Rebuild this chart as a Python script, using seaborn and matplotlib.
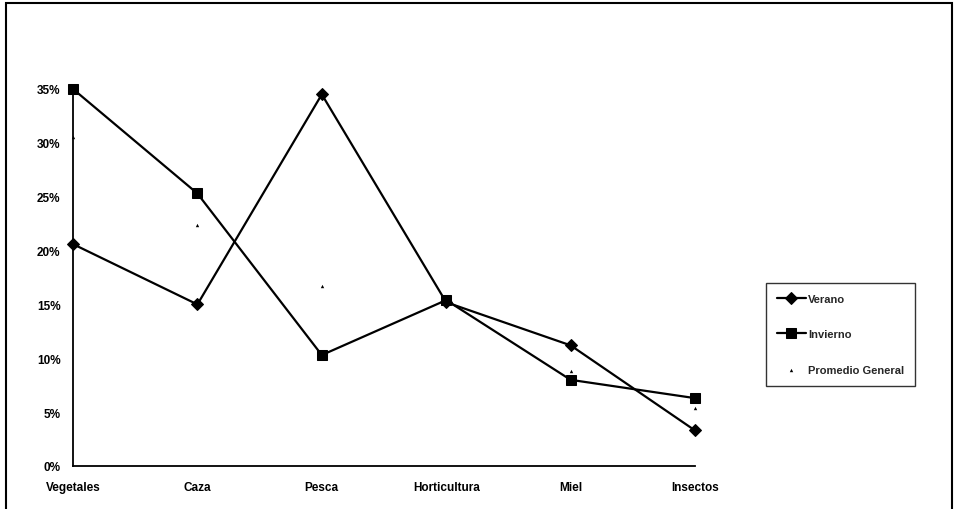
import matplotlib
matplotlib.use("Agg")
import matplotlib.pyplot as plt
import matplotlib.patches as patches
from matplotlib.ticker import PercentFormatter
import seaborn as sns
import pandas as pd

# data
categorias = ["Vegetales", "Caza", "Pesca", "Horticultura", "Miel", "Insectos"]
verano = [0.206, 0.150, 0.345, 0.152, 0.112, 0.033]
invierno = [0.350, 0.253, 0.103, 0.154, 0.080, 0.063]
promedio = [0.305, 0.224, 0.167, 0.151, 0.088, 0.054]

df = pd.DataFrame({"cat": categorias, "Verano": verano,
                   "Invierno": invierno, "Promedio General": promedio})

sns.set_style("white")
plt.rcParams["font.family"] = ["Liberation Sans", "DejaVu Sans"]
plt.rcParams["font.weight"] = "bold"

fig = plt.figure(figsize=(9.56, 5.10), dpi=100)
ax = fig.add_axes([73 / 956, 1 - 467 / 510, 622 / 956, 377 / 510])

sns.lineplot(data=df, x="cat", y="Verano", ax=ax, color="black", lw=1.6,
             marker="D", markersize=6.5, markeredgecolor="black", label="Verano")
sns.lineplot(data=df, x="cat", y="Invierno", ax=ax, color="black", lw=1.6,
             marker="s", markersize=7, markeredgecolor="black", label="Invierno")
sns.scatterplot(data=df, x="cat", y="Promedio General", ax=ax, color="black",
                marker="^", s=6, linewidth=0, label="Promedio General")
for art in ax.lines + ax.collections:
    art.set_clip_on(False)

ax.set_xlim(0, 5)
ax.set_ylim(0, 0.35)
ax.set_yticks([0, 0.05, 0.10, 0.15, 0.20, 0.25, 0.30, 0.35])
ax.yaxis.set_major_formatter(PercentFormatter(1.0, decimals=0))
ax.set_xlabel("")
ax.set_ylabel("")
for s in ["top", "right"]:
    ax.spines[s].set_visible(False)
for s in ["left", "bottom"]:
    ax.spines[s].set_color("black")
    ax.spines[s].set_linewidth(1.3)
ax.tick_params(axis="both", direction="inout", length=6, width=1.2,
               colors="black", labelsize=8.5, pad=6)
ax.tick_params(axis="x", pad=8)
for lbl in ax.get_xticklabels() + ax.get_yticklabels():
    lbl.set_fontweight("bold")

ax.get_legend().remove()
h, l = ax.get_legend_handles_labels()
leg = fig.legend(h, l, loc="upper left", bbox_to_anchor=(760 / 956, 1 - 278 / 510),
                 frameon=True, fancybox=False, edgecolor="black", fontsize=8,
                 labelspacing=2.3, handlelength=2.6, borderpad=1.0, handletextpad=0.2)
leg.get_frame().set_linewidth(1.0)
for t in leg.get_texts():
    t.set_fontweight("bold")

# outer chart frame
fig.patches.append(patches.Rectangle((6 / 956, -0.05), 946 / 956, 1.05 - 4 / 510,
                                     transform=fig.transFigure, fill=False,
                                     edgecolor="black", lw=1.5, clip_on=False))

fig.savefig("out.png", dpi=100)
